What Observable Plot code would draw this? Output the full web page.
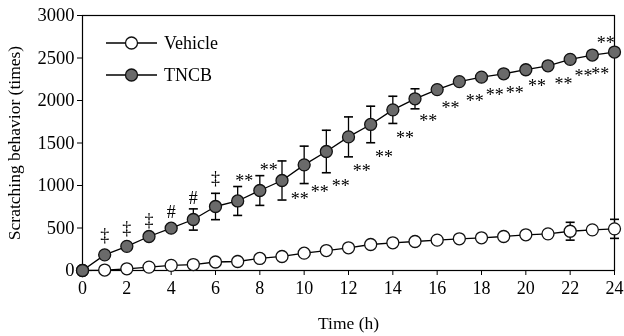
<!DOCTYPE html>
<html>
<head>
<meta charset="utf-8">
<script src="https://cdn.jsdelivr.net/npm/d3@7"></script>
<script src="https://cdn.jsdelivr.net/npm/@observablehq/plot@0.6"></script>
<style>
  html, body { margin: 0; padding: 0; background: white; }
  #wrap { position: relative; width: 624px; height: 336px; font-family: "Liberation Serif", serif; }
  #wrap svg text { font-family: "Liberation Serif", serif; }
  #wrap > svg { will-change: transform; }
  #legend { position: absolute; left: 0; top: 0; font-family: "Liberation Serif", serif; font-size: 18px; will-change: transform; }
  .item { position: absolute; display: flex; align-items: center; }
  .item span { margin-left: 7px; }
</style>
</head>
<body>
<div id="wrap"></div>
<script>
const times   = [0,1,2,3,4,5,6,7,8,9,10,11,12,13,14,15,16,17,18,19,20,21,22,23,24];
const vehicle = [0,5,20,40,60,70,100,106,142,165,204,235,267,306,326,341,357,373,385,400,420,431,462,478,490];
const vehicleErr = [0,10,10,10,15,15,20,20,20,20,25,25,25,25,25,25,25,25,25,25,25,25,105,25,112];
const tncb    = [0,184,284,400,498,600,753,818,941,1059,1243,1400,1572,1718,1890,2020,2128,2222,2275,2314,2362,2408,2484,2535,2570];
const tncbErr = [0,20,20,20,30,125,155,170,175,230,220,250,235,215,160,118,40,40,40,40,40,40,40,40,40];

const annX = [1,2,3,4,5,6,7.3,8.4,9.8,10.7,11.65,12.6,13.6,14.55,15.6,16.6,17.7,18.6,19.5,20.5,21.7,22.6,23.36,23.6];
const annY = [412,494,588,682,847,1082,1094,1224,882,965,1039,1215,1380,1606,1800,1953,2039,2109,2138,2215,2244,2333,2353,2726];
const annText = ["‡","‡","‡","#","#","‡","**","**","**","**","**","**","**","**","**","**","**","**","**","**","**","**","**","**"];

const xTicks = [0,2,4,6,8,10,12,14,16,18,20,22,24];
const yTicks = [0,500,1000,1500,2000,2500,3000];

const seriesNames = ["Vehicle", "TNCB"];
const seriesFill = {"Vehicle": "white", "TNCB": "#6a6a6a"};

const rows = [];
times.forEach((t, i) => {
  rows.push({t, v: vehicle[i], e: vehicleErr[i], s: "Vehicle"});
  rows.push({t, v: tncb[i], e: tncbErr[i], s: "TNCB"});
});
const ann = annX.map((x, i) => ({x, y: annY[i], label: annText[i]}));

const capSymbol = {
  draw(context, size) {
    const w = Math.sqrt(size / Math.PI);
    context.moveTo(-w, 0);
    context.lineTo(w, 0);
  }
};

const FONT = "Liberation Serif";

const chart = Plot.plot({
  width: 624,
  height: 336,
  marginLeft: 82,
  marginRight: 10,
  marginTop: 15,
  marginBottom: 66,
  style: {fontFamily: FONT, fontSize: "17px", background: "white", color: "black", overflow: "visible"},
  x: {domain: [0, 24]},
  y: {domain: [0, 3000]},
  marks: [
    Plot.frame({stroke: "black", strokeWidth: 1.2}),
    Plot.axisX({ticks: xTicks, tickSize: 5, tickPadding: 6, tickFormat: d => String(d), label: null, fontSize: 18, fontFamily: FONT}),
    Plot.axisX({ticks: [], tickSize: 0, label: "Time (h)", labelAnchor: "center", labelArrow: "none", labelOffset: 58, fontSize: 17.5, fontFamily: FONT}),
    Plot.axisY({ticks: yTicks, tickSize: 5, tickPadding: 3, tickFormat: d => String(d), label: null, fontSize: 18.5, fontFamily: FONT}),
    Plot.axisY({ticks: [], tickSize: 0, label: "Scratching behavior (times)", labelAnchor: "center", labelArrow: "none", labelOffset: 75, fontSize: 17.5, fontFamily: FONT}),
    Plot.ruleX(rows, {x: "t", y1: d => d.v - d.e, y2: d => d.v + d.e, stroke: "black", strokeWidth: 1.3}),
    Plot.dot(rows, {x: "t", y: d => d.v + d.e, symbol: capSymbol, r: 4.5, stroke: "black", strokeWidth: 1.6}),
    Plot.dot(rows, {x: "t", y: d => d.v - d.e, symbol: capSymbol, r: 4.5, stroke: "black", strokeWidth: 1.6}),
    Plot.line(rows, {x: "t", y: "v", z: "s", stroke: "black", strokeWidth: 1.3}),
    Plot.dot(rows, {x: "t", y: "v", r: 6, fill: d => seriesFill[d.s], stroke: "#111", strokeWidth: 1.3}),
    Plot.text(ann.filter(d => d.label !== "**"), {x: "x", y: "y", text: "label", fontSize: 18, fontFamily: FONT, fill: "black"}),
    Plot.text(ann.filter(d => d.label === "**"), {x: "x", y: "y", text: "label", fontSize: 18, fontFamily: FONT, dy: 4, fill: "black", letterSpacing: 1.5})
  ]
});

const wrap = document.getElementById("wrap");
wrap.appendChild(chart);

const legend = document.createElement("div");
legend.id = "legend";
const legendY = [43, 75];
seriesNames.forEach((name, i) => {
  const item = document.createElement("div");
  item.className = "item";
  item.style.left = "106px";
  item.style.top = (legendY[i] - 10) + "px";
  item.style.height = "20px";
  item.innerHTML = `<svg width="51" height="20"><line x1="0" y1="10" x2="51" y2="10" stroke="black" stroke-width="1.3"/><circle cx="25.5" cy="10" r="6" fill="${seriesFill[name]}" stroke="#111" stroke-width="1.3"/></svg><span>${name}</span>`;
  legend.appendChild(item);
});
wrap.appendChild(legend);
</script>
</body>
</html>
